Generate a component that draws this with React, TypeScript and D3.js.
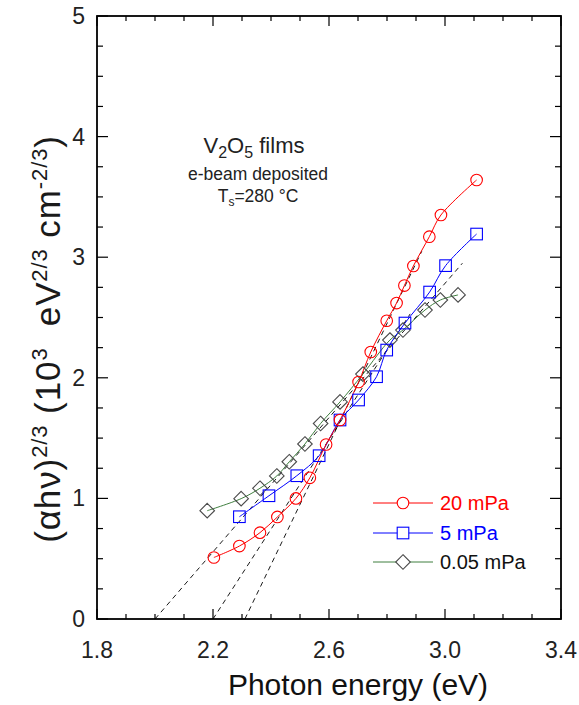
import React from "react";
import * as d3 from "d3";

const redX = [2.203, 2.291, 2.362, 2.422, 2.486, 2.534, 2.59, 2.638, 2.702, 2.744, 2.799, 2.833, 2.86, 2.891, 2.946, 2.986, 3.109];
const redY = [0.51, 0.605, 0.716, 0.846, 1.0, 1.171, 1.447, 1.65, 1.965, 2.214, 2.473, 2.62, 2.765, 2.927, 3.17, 3.35, 3.64];

const blueX = [2.291, 2.393, 2.489, 2.566, 2.638, 2.702, 2.764, 2.799, 2.862, 2.947, 3.002, 3.109];
const blueY = [0.848, 1.022, 1.188, 1.354, 1.65, 1.816, 2.009, 2.23, 2.454, 2.711, 2.93, 3.192];

const diaX = [2.18, 2.297, 2.362, 2.42, 2.463, 2.517, 2.571, 2.638, 2.717, 2.81, 2.855, 2.931, 2.984, 3.045];
const diaY = [0.898, 0.998, 1.084, 1.186, 1.304, 1.451, 1.621, 1.8, 2.031, 2.313, 2.396, 2.562, 2.645, 2.687];

// tangent (extrapolation) lines: start x (on axis), end x, end y
const tanX0 = [2.0, 2.2, 2.31];
const tanX1 = [3.06, 2.88, 2.92];
const tanY1 = [2.95, 2.53, 3.05];

const xTickLabels = [1.8, 2.2, 2.6, 3.0, 3.4];
const yTickLabels = [0, 1, 2, 3, 4, 5];
const legendLabels = ["20 mPa", "5 mPa", "0.05 mPa"];

const FONT = "'Liberation Sans', Arial, Helvetica, sans-serif";

export default function App() {
  const L = 97, R = 561, T = 16, B = 619;
  const x = d3.scaleLinear().domain([1.8, 3.4]).range([L, R]);
  const y = d3.scaleLinear().domain([0, 5]).range([B, T]);

  const line = d3
    .line<[number, number]>()
    .x((d) => x(d[0]))
    .y((d) => y(d[1]))
    .curve(d3.curveCatmullRom.alpha(0.5));

  const red = redX.map((v, i) => [v, redY[i]] as [number, number]);
  const blue = blueX.map((v, i) => [v, blueY[i]] as [number, number]);
  const dia = diaX.map((v, i) => [v, diaY[i]] as [number, number]);

  const xMinor = d3.range(18, 35).map((v) => v / 10);
  const yMinor = d3.range(0, 21).map((v) => v / 4);

  const redC = "#ff0000";
  const blueC = "#0000ff";
  const greenC = "#3f7f3f";
  const diaC = "#4a4a4a";

  const circle = (cx: number, cy: number, key: any, fill = "none") => (
    <circle key={key} cx={cx} cy={cy} r={5.8} fill={fill} stroke={redC} strokeWidth={1.1} />
  );
  const square = (cx: number, cy: number, key: any, fill = "none") => (
    <rect key={key} x={cx - 5.8} y={cy - 5.8} width={11.6} height={11.6} fill={fill} stroke={blueC} strokeWidth={1.1} />
  );
  const diamond = (cx: number, cy: number, key: any, fill = "none") => (
    <path
      key={key}
      d={`M${cx},${cy - 7.3}L${cx + 7.3},${cy}L${cx},${cy + 7.3}L${cx - 7.3},${cy}Z`}
      fill={fill}
      stroke={diaC}
      strokeWidth={1.1}
    />
  );

  const legendY = [503, 533, 562];

  return (
    <svg
      width={579}
      height={705}
      style={{ position: "absolute", left: 0, top: 0, background: "#fff" }}
      fontFamily={FONT}
    >
      <rect x={0} y={0} width={579} height={705} fill="#fff" />

      {/* tangent dashed lines */}
      {tanX0.map((x0, i) => (
        <line
          key={"t" + i}
          x1={x(x0)}
          y1={y(0)}
          x2={x(tanX1[i])}
          y2={y(tanY1[i])}
          stroke="#000"
          strokeWidth={0.9}
          strokeDasharray="5,4"
        />
      ))}

      {/* series lines */}
      <path d={line(dia) || ""} fill="none" stroke={greenC} strokeWidth={1} />
      <path d={line(blue) || ""} fill="none" stroke={blueC} strokeWidth={1} />
      <path d={line(red) || ""} fill="none" stroke={redC} strokeWidth={1} />

      {/* markers */}
      {dia.map((d, i) => diamond(x(d[0]), y(d[1]), "d" + i))}
      {blue.map((d, i) => square(x(d[0]), y(d[1]), "b" + i))}
      {red.map((d, i) => circle(x(d[0]), y(d[1]), "r" + i))}

      {/* frame */}
      <rect x={L} y={T} width={R - L} height={B - T} fill="none" stroke="#000" strokeWidth={1.8} />

      {/* x ticks */}
      {xMinor.map((v, i) => {
        const major = Math.abs((v - 1.8) / 0.4 - Math.round((v - 1.8) / 0.4)) < 1e-6;
        const len = major ? 10 : 5;
        return (
          <g key={"xt" + i}>
            <line x1={x(v)} x2={x(v)} y1={B} y2={B - len} stroke="#000" strokeWidth={1.2} />
            <line x1={x(v)} x2={x(v)} y1={T} y2={T + len} stroke="#000" strokeWidth={1.2} />
          </g>
        );
      })}
      {/* y ticks */}
      {yMinor.map((v, i) => {
        const major = Math.abs(v - Math.round(v)) < 1e-6;
        const len = major ? 11 : 6;
        return (
          <g key={"yt" + i}>
            <line x1={L} x2={L + len} y1={y(v)} y2={y(v)} stroke="#000" strokeWidth={1.2} />
            <line x1={R} x2={R - len} y1={y(v)} y2={y(v)} stroke="#000" strokeWidth={1.2} />
          </g>
        );
      })}

      {/* tick labels */}
      {xTickLabels.map((v) => (
        <text key={"xl" + v} x={x(v)} y={658} textAnchor="middle" fontSize={23} fill="#222">
          {v.toFixed(1)}
        </text>
      ))}
      {yTickLabels.map((v) => (
        <text key={"yl" + v} x={85} y={y(v) + 8} textAnchor="end" fontSize={23} fill="#222">
          {v}
        </text>
      ))}

      {/* axis titles */}
      <text x={358} y={695} textAnchor="middle" fontSize={30} fill="#111">
        Photon energy (eV)
      </text>
      <text
        transform={`translate(60,339) rotate(-90)`}
        textAnchor="middle"
        fontSize={35}
        fill="#1a1a1a"
        letterSpacing={0.9}
      >
        <tspan>(αhν)</tspan>
        <tspan fontSize={22} dy={-13}>2/3</tspan>
        <tspan dy={13}> (10</tspan>
        <tspan fontSize={22} dy={-13}>3</tspan>
        <tspan dy={13}>{"\u00a0 eV"}</tspan>
        <tspan fontSize={22} dy={-13}>2/3</tspan>
        <tspan dy={13}> cm</tspan>
        <tspan fontSize={22} dy={-13}>-2/3</tspan>
        <tspan dy={13}>)</tspan>
      </text>

      {/* annotation */}
      <text x={254} y={153} textAnchor="middle" fontSize={22} fill="#222">
        <tspan>V</tspan>
        <tspan fontSize={16} dy={5}>2</tspan>
        <tspan dy={-5}>O</tspan>
        <tspan fontSize={16} dy={5}>5</tspan>
        <tspan dy={-5}> films</tspan>
      </text>
      <text x={258} y={180} textAnchor="middle" fontSize={17.5} fill="#222">
        e-beam deposited
      </text>
      <text x={258} y={202} textAnchor="middle" fontSize={17.5} fill="#222">
        <tspan>T</tspan>
        <tspan fontSize={12} dy={4}>s</tspan>
        <tspan dy={-4}>=280 °C</tspan>
      </text>

      {/* legend */}
      {legendLabels.map((lab, i) => {
        const ly = legendY[i];
        const c = i === 0 ? redC : i === 1 ? blueC : greenC;
        const tc = i === 0 ? redC : i === 1 ? blueC : "#111";
        return (
          <g key={"lg" + i}>
            <line x1={373} x2={433} y1={ly} y2={ly} stroke={c} strokeWidth={1} />
            {i === 0 && circle(403, ly, "lc", "#fff")}
            {i === 1 && square(403, ly, "ls", "#fff")}
            {i === 2 && diamond(403, ly, "ld", "#fff")}
            <text x={440} y={ly + 7} fontSize={20} fill={tc}>
              {lab}
            </text>
          </g>
        );
      })}
    </svg>
  );
}
